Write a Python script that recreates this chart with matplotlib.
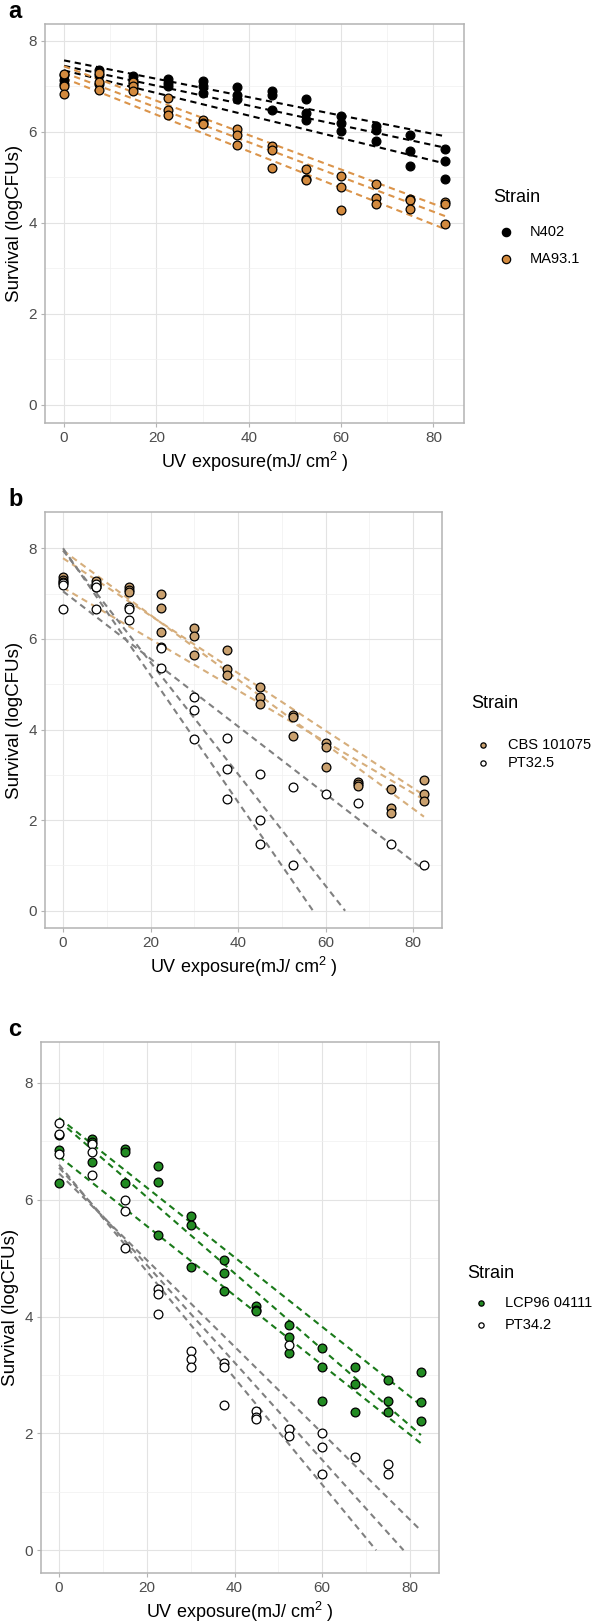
import numpy as np
import matplotlib
matplotlib.use("Agg")
from matplotlib import pyplot as plt
from matplotlib.lines import Line2D

plt.rcParams['font.family'] = ['Liberation Sans', 'DejaVu Sans']
plt.rcParams['mathtext.default'] = 'regular'

nan = np.nan
uv = [0, 7.5, 15, 22.5, 30, 37.5, 45, 52.5, 60, 67.5, 75, 82.5]

# panel a: three replicates per strain
n402 = [[7.25, 7.35, 7.23, 7.16, 7.12, 6.98, 6.90, 6.72, 6.34, 6.12, 5.93, 5.63],
        [7.15, 7.25, 7.15, 7.07, 7.01, 6.81, 6.80, 6.41, 6.19, 6.04, 5.57, 5.35],
        [7.05, 7.05, 7.05, 7.01, 6.85, 6.73, 6.47, 6.26, 6.02, 5.79, 5.25, 4.96]]
ma931 = [[7.27, 7.29, 7.10, 6.74, 6.25, 6.07, 5.68, 5.18, 5.02, 4.85, 4.52, 4.45],
         [7.01, 7.10, 7.00, 6.48, 6.20, 5.92, 5.60, 4.97, 4.78, 4.54, 4.50, 4.41],
         [6.83, 6.91, 6.89, 6.37, 6.18, 5.70, 5.20, 4.95, 4.29, 4.42, 4.30, 3.98]]
# fitted lines: value at uv=0 and slope
n402_fit = [(7.57, -0.0202), (7.45, -0.0218), (7.35, -0.0248)]
ma931_fit = [(7.44, -0.0378), (7.30, -0.0382), (7.18, -0.0402)]

# panel b
cbs = [[7.37, 7.28, 7.14, 6.98, 6.25, 5.76, 4.93, 4.32, 3.71, 2.84, 2.69, 2.89],
       [7.31, 7.20, 7.08, 6.69, 6.06, 5.33, 4.71, 4.27, 3.61, 2.80, 2.26, 2.58],
       [7.25, 7.15, 7.04, 6.15, 5.65, 5.21, 4.57, 3.85, 3.17, 2.76, 2.15, 2.43]]
pt325 = [[7.24, 7.22, 6.71, 5.82, 4.71, 3.81, 3.02, 2.73, 2.58, 2.38, 1.48, 1.00],
         [7.20, 7.15, 6.66, 5.79, 4.43, 3.12, 2.00, 1.00, nan, nan, nan, nan],
         [6.66, 6.66, 6.42, 5.35, 3.79, 2.46, 1.48, nan, nan, nan, nan, nan]]
cbs_fit = [(7.95, -0.0712), (7.78, -0.0634), (7.13, -0.0567)]
pt325_fit = [(8.00, -0.1400), (7.95, -0.1233), (7.05, -0.0745)]

# panel c
lcp = [[7.10, 7.04, 6.87, 6.57, 5.72, 4.97, 4.18, 3.85, 3.47, 3.13, 2.92, 3.05],
       [6.85, 6.98, 6.82, 6.31, 5.57, 4.75, 4.12, 3.65, 3.14, 2.84, 2.55, 2.54],
       [6.29, 6.65, 6.29, 5.39, 4.84, 4.44, 4.10, 3.38, 2.56, 2.36, 2.37, 2.22]]
pt342 = [[7.32, 6.96, 6.00, 4.48, 3.41, 3.21, 2.38, 3.51, 2.00, 1.60, 1.47, nan],
         [7.13, 6.82, 5.80, 4.38, 3.28, 3.13, 2.28, 2.07, 1.77, nan, 1.30, nan],
         [6.79, 6.43, 5.17, 4.05, 3.14, 2.48, 2.25, 1.96, 1.30, nan, nan, nan]]
lcp_fit = [(7.40, -0.0596), (7.35, -0.0652), (6.74, -0.0595)]
pt342_fit = [(6.60, -0.0913), (6.55, -0.0834), (6.45, -0.0741)]

panels = [
    dict(label='a', box=(45, 24, 464, 423), ylim=(-0.4, 8.37),
         strains=[('N402', n402, n402_fit, '#000000', '#000000'),
                  ('MA93.1', ma931, ma931_fit, '#D38A3E', '#DB944A')],
         leg=(493, 197, 506, 530, [232, 259]), legsize=6),
    dict(label='b', box=(45, 512, 442, 928), ylim=(-0.38, 8.8),
         strains=[('CBS 101075', cbs, cbs_fit, '#C9A06E', '#D6AE7C'),
                  ('PT32.5', pt325, pt325_fit, '#FFFFFF', '#808080')],
         leg=(471, 703, 483, 508, [745, 763]), legsize=3.8),
    dict(label='c', box=(41, 1042, 439, 1573), ylim=(-0.39, 8.7),
         strains=[('LCP96 04111', lcp, lcp_fit, '#228B22', '#1A7A1A'),
                  ('PT34.2', pt342, pt342_fit, '#FFFFFF', '#808080')],
         leg=(467, 1273, 481, 505, [1303, 1325]), legsize=3.8),
]

W, H = 598, 1623
fig = plt.figure(figsize=(W / 100, H / 100), dpi=100)


def fx(px):
    return px / W


def fy(py):
    return 1 - py / H


for p in panels:
    l, t, r, b = p['box']
    ax = fig.add_axes([fx(l), fy(b), (r - l) / W, (b - t) / H])
    ax.set_xlim(-4.125, 86.625)
    ax.set_ylim(*p['ylim'])
    ax.set_xticks([0, 20, 40, 60, 80])
    ax.set_xticks([10, 30, 50, 70], minor=True)
    ax.set_yticks([0, 2, 4, 6, 8])
    ax.set_yticks([1, 3, 5, 7], minor=True)
    ax.grid(which='major', color='#E3E3E3', lw=0.8)
    ax.grid(which='minor', color='#F0F0F0', lw=0.5)
    ax.set_axisbelow(True)
    for s in ax.spines.values():
        s.set_color('#B3B3B3')
        s.set_linewidth(1.1)
    ax.tick_params(which='major', length=3, color='#B3B3B3', labelsize=11,
                   labelcolor='#4D4D4D', pad=3)
    ax.tick_params(which='minor', length=0)
    ax.set_xlabel(r'UV exposure(mJ/ cm$^{2}$ )', fontsize=13, labelpad=3)
    ax.set_ylabel('Survival (logCFUs)', fontsize=13.5, labelpad=4)

    tx, ty, mx, lx, ys = p['leg']
    fig.text(fx(tx), fy(ty), 'Strain', fontsize=13, va='center', ha='left')

    for (name, reps, fits, fill, lcol), ey in zip(p['strains'], ys):
        x0, x1 = uv[0], uv[-1]
        for b0, m in fits:
            xe = min(x1, -b0 / m)
            ax.plot([x0, xe], [b0, b0 + m * xe], ls=(0, (3, 2.2)), lw=1.5,
                    color=lcol, zorder=2)
        for rep in reps:
            ax.scatter(uv, rep, s=40, c=fill, edgecolors='black', linewidths=0.9,
                       zorder=3)
        # legend key
        fig.add_artist(Line2D([fx(mx)], [fy(ey)], ls='', marker='o',
                              markersize=p['legsize'], markerfacecolor=fill,
                              markeredgecolor='black', markeredgewidth=0.9,
                              transform=fig.transFigure))
        fig.text(fx(lx), fy(ey), name, fontsize=10.5, va='center', ha='left')

    fig.text(fx(8), fy(t - 12), p['label'], fontsize=17,
             fontweight='bold', va='center', ha='left')

fig.savefig('out.png', dpi=100)
